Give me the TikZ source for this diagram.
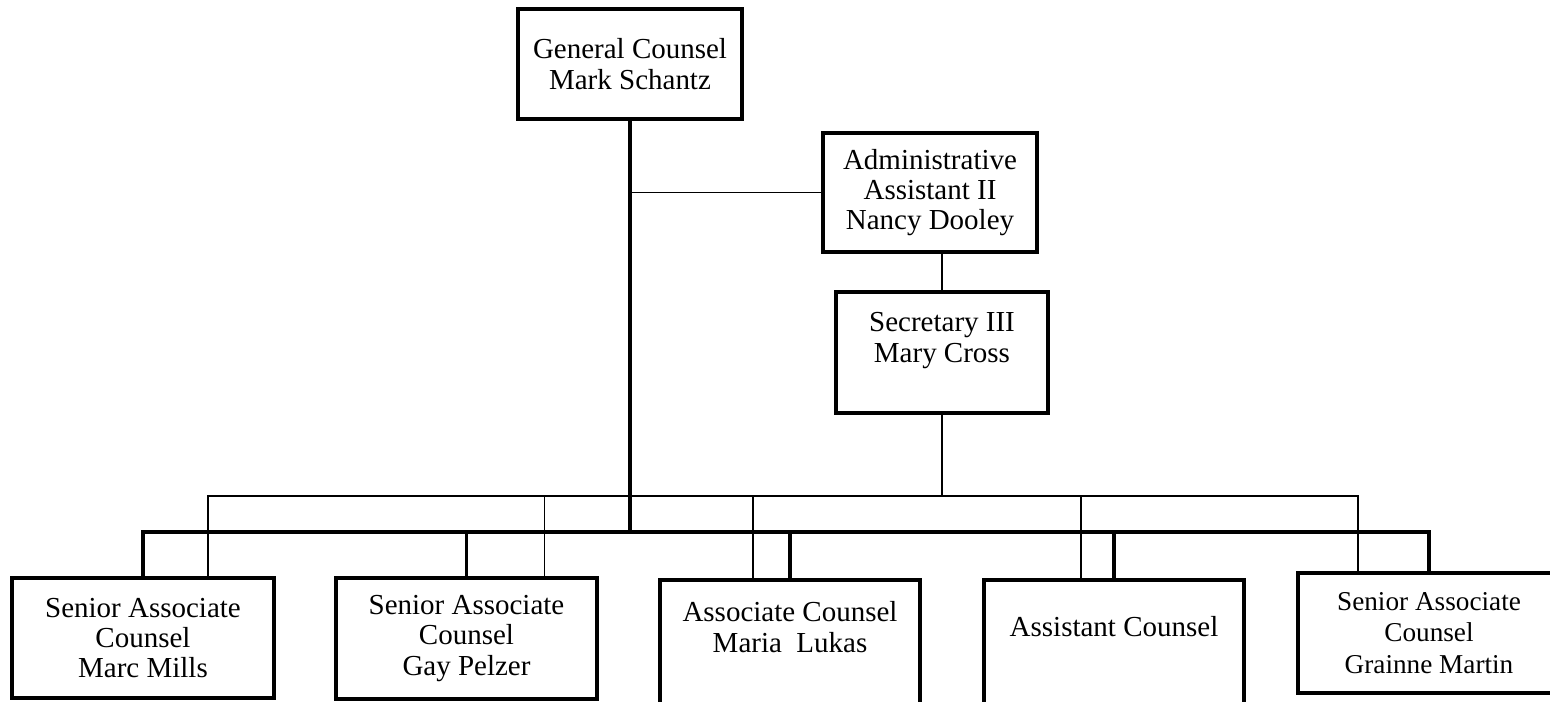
\documentclass[tikz,border=0pt]{standalone}
\usepackage{fontspec}
\setmainfont{Liberation Serif}
\usetikzlibrary{calc,positioning}
\newcommand\orgfont{\fontsize{16.5}{17.2}\selectfont}
\tikzset{
  post/.style={draw, line width=2pt, align=center, inner sep=0pt, font=\orgfont},
  trunk/.style={line width=2pt},
  branch/.style={line width=1pt},
}

\begin{document}
\begin{tikzpicture}[x=0.02cm, y=-0.02cm]
		\useasboundingbox (0,0) rectangle (1550,701);
		\clip (0,0) rectangle (1550,701);
		\node[post, minimum width=4.48cm, minimum height=2.2cm] (gc) at (630,64) {General Counsel\\Mark Schantz};
		\node[post, minimum width=4.28cm, minimum height=2.38cm] (admin) at (930,192.5) {Administrative\\Assistant II\\Nancy Dooley};
		\node[post, minimum width=4.24cm, minimum height=2.42cm] (sec) at (942,352.5) {Secretary III\\Mary Cross\\~};
		\node[post, minimum width=5.24cm, minimum height=2.4cm] (marc) at (143,638) {Senior Associate\\Counsel\\Marc Mills};
		\node[post, minimum width=5.22cm, minimum height=2.42cm] (gay) at (466.5,638.5) {Senior Associate\\Counsel\\Gay Pelzer};
		\node[post, minimum width=5.2cm, minimum height=2.48cm] (maria) at (790,642) {Associate Counsel\\Maria\ \ Lukas\\~};
		\node[post, minimum width=5.2cm, minimum height=2.48cm] (asst) at (1114,642) {Assistant Counsel\\~};
		\node[post, minimum width=5.24cm, minimum height=2.4cm, font=\fontsize{15.5}{18}\selectfont] (grainne) at (1429,633) {Senior Associate\\Counsel\\Grainne Martin};
		% buses
		\coordinate (tk) at (630,532);
		\coordinate (tn) at (942,496);
		\draw[trunk] (gc.south) -- (tk);
		\draw[branch] (gc.south |- admin.west) -- (admin.west);
		\draw[branch] (admin.south -| sec.north) -- (sec.north);
		\draw[branch] (sec.south) -- (tn);
		\foreach \b/\dx in {marc/65, gay/78, maria/-37, asst/-33, grainne/-71}
			\coordinate (\b-in) at ($(\b.north)+(\dx,0)$);
		\draw[branch] (marc-in) -- (marc-in |- tn) -- (grainne-in |- tn) -- (grainne-in);
		\foreach \b in {gay, maria, asst}
			\draw[branch] (\b-in) -- (\b-in |- tn);
		\draw[trunk] (marc.north) -- (marc.north |- tk) -- (grainne.north |- tk) -- (grainne.north);
		\foreach \b in {gay, maria, asst}
			\draw[trunk] (\b.north) -- (\b.north |- tk);
	\end{tikzpicture}
\end{document}
